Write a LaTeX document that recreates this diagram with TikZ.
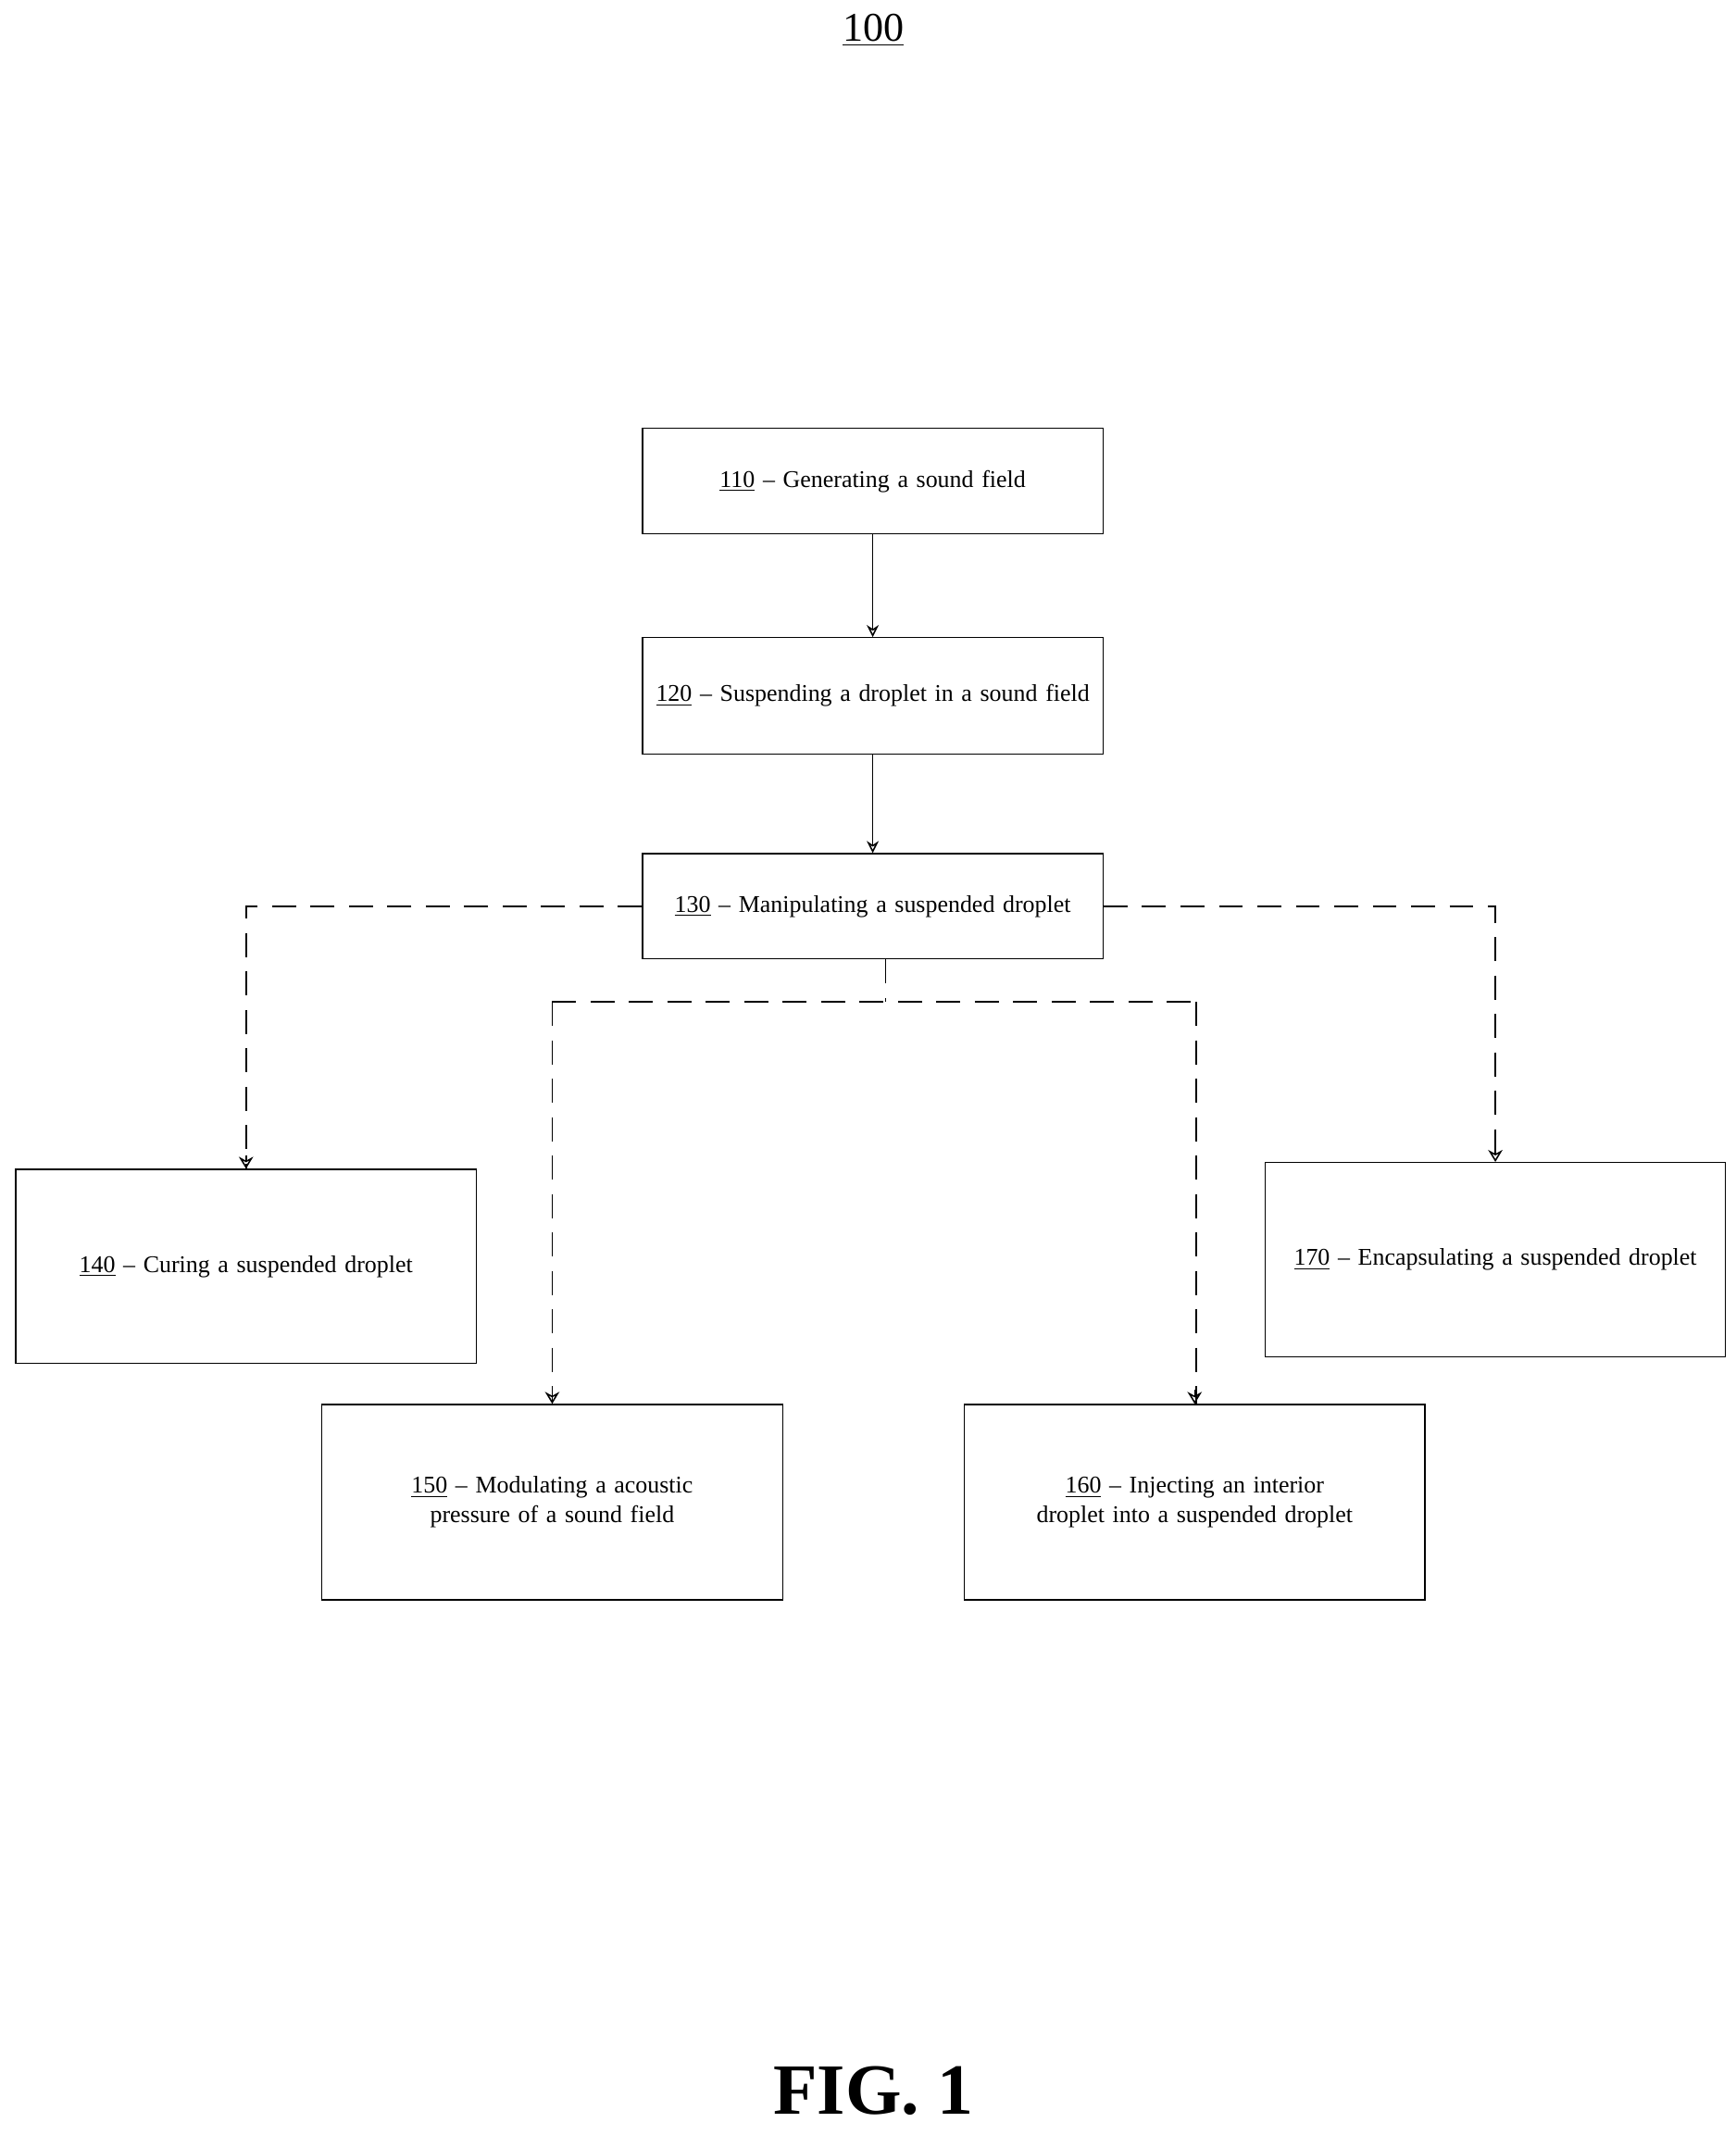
\documentclass[tikz,border=0pt]{standalone}
\usepackage{fontspec}
\setmainfont{Liberation Serif}
\usetikzlibrary{arrows.meta}
\begin{document}
\begin{tikzpicture}[x=0.02cm,y=-0.02cm,
  box/.style={draw,line width=0.5pt,minimum width=6.74cm,align=center,font=\fontsize{10}{12.5}\selectfont,execute at begin node={\hyphenpenalty=10000\exhyphenpenalty=10000},text width=6.6cm,inner sep=0pt},
  arr/.style={-{Stealth[length=5pt,width=5pt,open]},line width=0.6pt},
  dsh/.style={dash pattern=on 10pt off 6pt,line width=0.6pt}]
\useasboundingbox (0,0) rectangle (1270,1562);
\node (t) at (639,22) {\fontsize{17}{20}\selectfont\underline{100}};
\node[box,minimum height=1.54cm] (n110) at (638.5,352) {\underline{110} -- Generating a sound field};
\node[box,minimum height=1.7cm] (n120) at (638.5,509) {\underline{120} -- Suspending a droplet in a sound field};
\node[box,minimum height=1.54cm] (n130) at (638.5,663) {\underline{130} -- Manipulating a suspended droplet};
\node[box,minimum height=2.84cm] (n140) at (180,926.5) {\underline{140} -- Curing a suspended droplet};
\node[box,minimum height=2.86cm] (n150) at (404,1099) {\underline{150} -- Modulating a acoustic pressure of a sound field};
\node[box,minimum height=2.86cm] (n160) at (874,1099) {\underline{160} -- Injecting an interior droplet into a suspended droplet};
\node[box,minimum height=2.84cm] (n170) at (1094,921.5) {\underline{170} -- Encapsulating a suspended droplet};
\node[font=\bfseries\fontsize{30}{32}\selectfont] (fig) at (639,1530) {FIG. 1};
\draw[arr] (n110) -- (n120);
\draw[arr] (n120) -- (n130);
\coordinate (b) at (648,733);
\draw[dsh] (n130.west) -| (n140.north);
\draw[dsh] (n130.east) -| (n170.north);
\draw[dsh] (n130.south -| b) -- (b);
\draw[dsh] (404,733) -- (875,733);
\draw[dsh] (404,733) -- (n150.north);
\draw[dsh] (875,733) -- (n160.north -| 875,0);
\draw[-{Stealth[length=5pt,width=6pt,open]},line width=0.6pt] (180,845) -- (n140.north);
\draw[-{Stealth[length=5pt,width=6pt,open]},line width=0.6pt] (1094,840) -- (n170.north);
\draw[-{Stealth[length=5pt,width=6pt,open]},line width=0.6pt] (404,1017) -- (n150.north);
\draw[-{Stealth[length=5pt,width=6pt,open]},line width=0.6pt] (874,1017) -- (n160.north);
\end{tikzpicture}
\end{document}
